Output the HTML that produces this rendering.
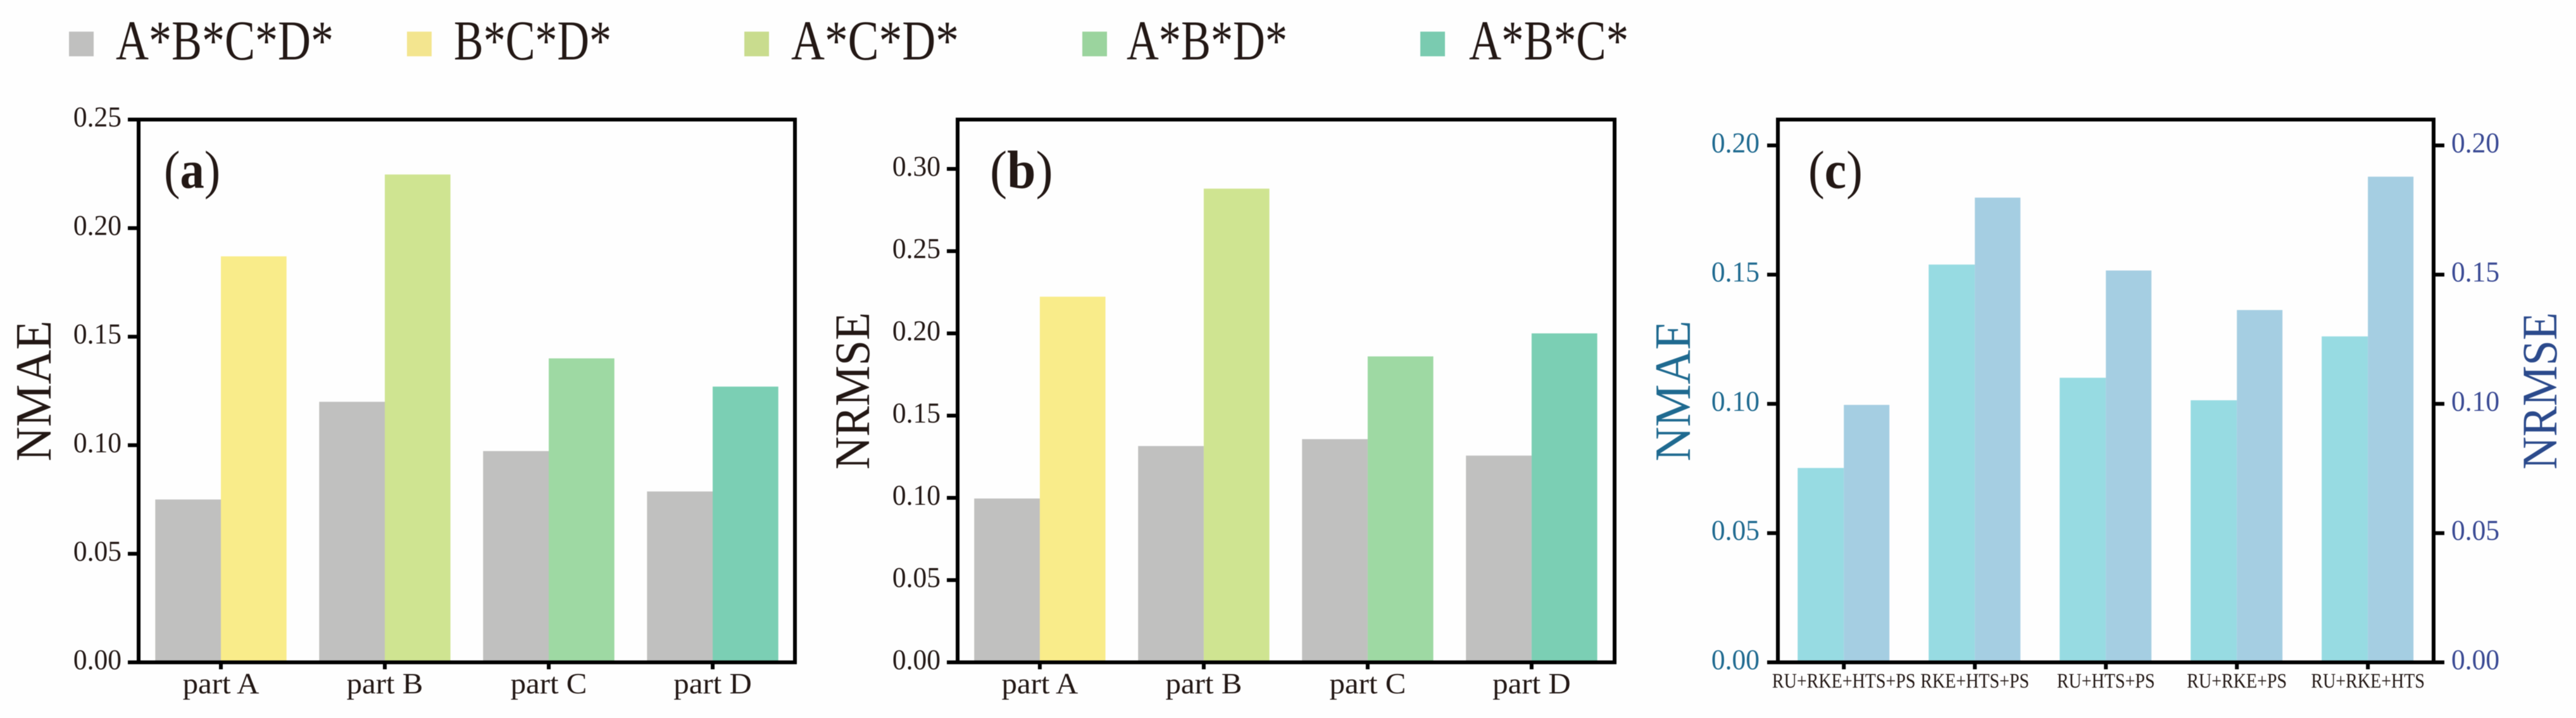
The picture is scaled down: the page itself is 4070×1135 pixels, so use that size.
<!DOCTYPE html>
<html lang="en">
<head>
<meta charset="utf-8">
<title>NMAE and NRMSE comparison charts</title>
<style>
html,body{margin:0;padding:0;background:#fff;width:4070px;height:1135px;overflow:hidden}
svg{display:block;filter:blur(0.6px)}
text{font-family:"Liberation Serif",serif;fill:#231815}
</style>
</head>
<body>
<svg id="figure" xmlns="http://www.w3.org/2000/svg" width="4070" height="1135" viewBox="0 0 4070 1135">
  <rect x="0" y="0" width="4070" height="1135" fill="#fefefe"/>
  <g>
    <g>
      <rect x="109" y="50" width="39" height="39" fill="#c0c0bf"/>
      <text x="183" y="94" font-size="89" textLength="344" lengthAdjust="spacingAndGlyphs">A*B*C*D*</text>
    </g>
    <g>
      <rect x="643" y="50" width="39" height="39" fill="#f3e58f"/>
      <text x="717" y="94" font-size="89" textLength="249" lengthAdjust="spacingAndGlyphs">B*C*D*</text>
    </g>
    <g>
      <rect x="1176" y="50" width="39" height="39" fill="#c9dc8e"/>
      <text x="1250" y="94" font-size="89" textLength="265" lengthAdjust="spacingAndGlyphs">A*C*D*</text>
    </g>
    <g>
      <rect x="1710" y="50" width="39" height="39" fill="#9bd49e"/>
      <text x="1780" y="94" font-size="89" textLength="254" lengthAdjust="spacingAndGlyphs">A*B*D*</text>
    </g>
    <g>
      <rect x="2244" y="50" width="39" height="39" fill="#7acbb0"/>
      <text x="2321" y="94" font-size="89" textLength="252" lengthAdjust="spacingAndGlyphs">A*B*C*</text>
    </g>
  </g>
  <g id="panel-a"></g>
  <g id="panel-b"></g>
  <g id="panel-c"></g>
</svg>
<script>
// ---- chart data ----
const partCategories = ['part A', 'part B', 'part C', 'part D'];
const panelANmaeBase = [0.075, 0.120, 0.0973, 0.0787];
const panelANmaeReduced = [0.187, 0.2247, 0.140, 0.127];
const panelATicks = ['0.00', '0.05', '0.10', '0.15', '0.20', '0.25'];
const panelBNrmseBase = [0.0996, 0.1315, 0.1357, 0.1257];
const panelBNrmseReduced = [0.2223, 0.288, 0.186, 0.200];
const panelBTicks = ['0.00', '0.05', '0.10', '0.15', '0.20', '0.25', '0.30'];
const comboCategories = ['RU+RKE+HTS+PS', 'RKE+HTS+PS', 'RU+HTS+PS', 'RU+RKE+PS', 'RU+RKE+HTS'];
const panelCNmae = [0.0752, 0.1539, 0.1101, 0.1014, 0.1261];
const panelCNrmse = [0.0996, 0.1798, 0.1516, 0.1363, 0.1879];
const panelCTicks = ['0.00', '0.05', '0.10', '0.15', '0.20'];

// ---- drawing ----
const NS = 'http://www.w3.org/2000/svg';
const TOP = 189, BOTTOM = 1047;
const INK = '#231815', NMAE_BLUE = '#1f6a90', NRMSE_BLUE = '#3a4a94';

function axisY(domainMax) {
  return v => BOTTOM - (v / domainMax) * (BOTTOM - TOP);
}
function axisX(firstCenter, step) {
  return i => firstCenter + i * step;
}
function shape(parent, tag, attrs) {
  const el = document.createElementNS(NS, tag);
  for (const k in attrs) el.setAttribute(k, attrs[k]);
  parent.appendChild(el);
  return el;
}
function label(parent, str, x, y, size, anchor, sx, color, rot) {
  const el = document.createElementNS(NS, 'text');
  el.textContent = str;
  el.setAttribute('font-size', size);
  el.setAttribute('text-anchor', anchor);
  el.setAttribute('transform', 'translate(' + x + ' ' + y + ')' + (rot ? ' rotate(-90)' : '') + ' scale(' + sx + ' 1)');
  el.style.fill = color;
  parent.appendChild(el);
  return el;
}
function drawBars(parent, values, x, y, width, offset, colorAt, prefix) {
  values.forEach((v, i) => {
    const r = shape(parent, 'rect', {
      x: x(i) + offset, y: y(v), width: width, height: BOTTOM - y(v), fill: colorAt(i)
    });
    
    
  });
}
function drawYTicks(parent, ticks, y, spineX, dir, labelX, anchor, color, prefix) {
  ticks.forEach(t => {
    const v = Number(t);
    const line = shape(parent, 'line', {
      x1: spineX, x2: spineX + dir * 17, y1: y(v), y2: y(v), stroke: '#000', 'stroke-width': 6
    });
    
    
    const tx = label(parent, t, labelX, y(v) + 11, 46, anchor, 0.945, color, false);
    
    
  });
}
function drawXTicks(parent, cats, x, size, sx, baseline, prefix) {
  cats.forEach((c, i) => {
    const line = shape(parent, 'line', {
      x1: x(i), x2: x(i), y1: BOTTOM, y2: 1058, stroke: '#000', 'stroke-width': 6
    });
    
    
    const tx = label(parent, c, x(i), baseline, size, 'middle', sx, INK, false);
    
    
  });
}
function drawFrame(parent, left, right, prefix) {
  const f = shape(parent, 'rect', {
    x: left, y: TOP, width: right - left, height: BOTTOM - TOP, fill: 'none', stroke: '#000', 'stroke-width': 6
  });
  
  
}
function drawTitle(parent, str, x, sx, size, color, prefix) {
  const t = label(parent, str, x, 618, size, 'middle', sx, color, true);
  
  
}
function drawPanelTag(parent, letter, x, sx, prefix) {
  const t = document.createElementNS(NS, 'text');
  t.setAttribute('font-size', 85);
  t.setAttribute('transform', 'translate(' + x + ' 297) scale(' + sx + ' 1)');
  
  
  t.appendChild(document.createTextNode('('));
  const b = document.createElementNS(NS, 'tspan');
  b.setAttribute('font-weight', 'bold');
  b.textContent = letter;
  t.appendChild(b);
  t.appendChild(document.createTextNode(')'));
  parent.appendChild(t);
}

const GREY = '#c0c0bf';
const reducedColors = ['#f9ec8a', '#cfe491', '#9ed9a3', '#7bcfb4'];

// Panel (a)
(function () {
  const g = document.getElementById('panel-a');
  const y = axisY(0.25), x = axisX(349, 259);
  drawBars(g, panelANmaeBase, x, y, 103.7, -103.7, () => GREY, 'panel-a-base');
  drawBars(g, panelANmaeReduced, x, y, 103.7, 0, i => reducedColors[i], 'panel-a-reduced');
  drawYTicks(g, panelATicks, y, 219, -1, 192, 'end', INK, 'panel-a-y');
  drawXTicks(g, partCategories, x, 47, 1.04, 1096, 'panel-a');
  drawFrame(g, 219, 1256, 'panel-a');
  drawTitle(g, 'NMAE', 80, 0.945, 80, INK, 'panel-a-y-title');
  drawPanelTag(g, 'a', 259, 0.9, 'panel-a-tag');
})();

// Panel (b)
(function () {
  const g = document.getElementById('panel-b');
  const y = axisY(0.33), x = axisX(1642.9, 259);
  drawBars(g, panelBNrmseBase, x, y, 103.7, -103.7, () => GREY, 'panel-b-base');
  drawBars(g, panelBNrmseReduced, x, y, 103.7, 0, i => reducedColors[i], 'panel-b-reduced');
  drawYTicks(g, panelBTicks, y, 1513, -1, 1486, 'end', INK, 'panel-b-y');
  drawXTicks(g, partCategories, x, 47, 1.04, 1096, 'panel-b');
  drawFrame(g, 1513, 2551, 'panel-b');
  drawTitle(g, 'NRMSE', 1373, 0.925, 78, INK, 'panel-b-y-title');
  drawPanelTag(g, 'b', 1564, 0.96, 'panel-b-tag');
})();

// Panel (c)
(function () {
  const g = document.getElementById('panel-c');
  const y = axisY(0.21), x = axisX(2913.2, 207);
  drawBars(g, panelCNmae, x, y, 73, -73, () => '#97dbe2', 'panel-c-nmae');
  drawBars(g, panelCNrmse, x, y, 72, 0, () => '#a5cee2', 'panel-c-nrmse');
  drawYTicks(g, panelCTicks, y, 2809, -1, 2780, 'end', NMAE_BLUE, 'panel-c-left-y');
  drawYTicks(g, panelCTicks, y, 3845, 1, 3873, 'start', NRMSE_BLUE, 'panel-c-right-y');
  drawXTicks(g, comboCategories, x, 33, 0.85, 1087, 'panel-c');
  drawFrame(g, 2809, 3845, 'panel-c');
  drawTitle(g, 'NMAE', 2670, 0.945, 80, NMAE_BLUE, 'panel-c-left-y-title');
  drawTitle(g, 'NRMSE', 4039, 0.925, 78, '#2b4a8c', 'panel-c-right-y-title');
  drawPanelTag(g, 'c', 2857, 0.91, 'panel-c-tag');
})();
</script>
</body>
</html>
